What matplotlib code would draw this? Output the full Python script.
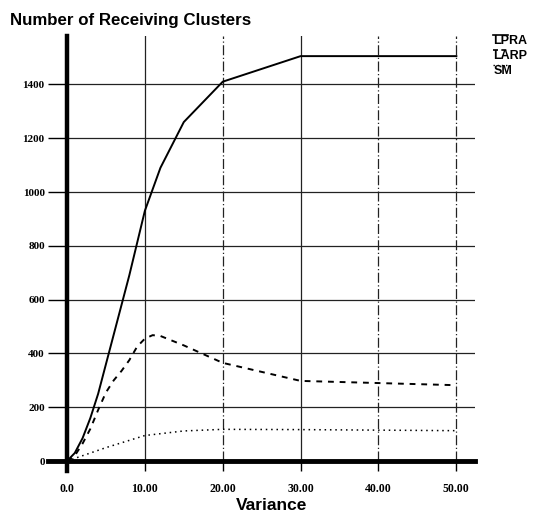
import matplotlib
matplotlib.use("Agg")
import matplotlib.pyplot as plt
from matplotlib.lines import Line2D

# LPRA (solid)
lpra_x = [0, 1, 2, 3, 4, 5, 6, 7, 8, 9, 10, 12, 15, 20, 30, 40, 50]
lpra_y = [0, 30, 85, 160, 250, 360, 470, 580, 690, 810, 930, 1090, 1260, 1410, 1505, 1505, 1505]
# LARP (dashed)
larp_x = [0, 1, 2, 3, 4, 5, 6, 7, 8, 9, 10, 11, 12, 15, 20, 30, 40, 50]
larp_y = [0, 20, 65, 120, 190, 255, 300, 335, 375, 425, 455, 468, 465, 430, 365, 298, 290, 282]
# SM (dotted)
sm_x = [0, 5, 10, 15, 20, 30, 40, 50]
sm_y = [0, 50, 95, 112, 118, 117, 115, 113]

x_ticks = [0, 10, 20, 30, 40, 50]
x_labels = ["0.0", "10.00", "20.00", "30.00", "40.00", "50.00"]
y_ticks = [0, 200, 400, 600, 800, 1000, 1200, 1400]
legend_labels = ["LPRA", "LARP", "SM"]

fig = plt.figure(figsize=(5.38, 5.21), dpi=100)
ax = fig.add_axes([0.1245, 0.115, 0.883 - 0.1245, 0.931 - 0.115])

ax.set_xlim(0, 52.4)
ax.set_ylim(0, 1580)

# сетка
for y in y_ticks[1:]:
    ax.axhline(y, color="#222222", lw=0.9, zorder=1)
for x in x_ticks[1:]:
    ls = "-" if x in (10, 30) else (0, (8, 2, 1, 2))
    ax.axvline(x, color="#222222", lw=0.9, ls=ls, zorder=1)

ax.plot(lpra_x, lpra_y, color="black", lw=1.4, zorder=3)
ax.plot(larp_x, larp_y, color="black", lw=1.4, ls=(0, (3, 3)), zorder=3)
ax.plot(sm_x, sm_y, color="black", lw=1.1, ls=(0, (1, 2.5)), zorder=3)

for side in ("top", "right"):
    ax.spines[side].set_visible(False)
ax.spines["left"].set_linewidth(3.2)
ax.spines["bottom"].set_linewidth(3.5)
ax.spines["left"].set_bounds(-35, 1580)
ax.spines["bottom"].set_bounds(-2.4, 52.4)
ax.spines["left"].set_zorder(4)
ax.spines["bottom"].set_zorder(4)

ax.set_yticks(y_ticks)
ax.set_yticklabels([str(v) for v in y_ticks])
ax.set_xticks(x_ticks)
ax.set_xticklabels(x_labels)
ax.tick_params(axis="y", direction="out", length=14, width=1.0, pad=2)
ax.tick_params(axis="x", direction="out", length=7, width=1.0, pad=9)
for lab in ax.get_yticklabels():
    lab.set_fontfamily("Liberation Serif")
    lab.set_fontweight("bold")
    lab.set_fontsize(8)
for lab in ax.get_xticklabels():
    lab.set_fontfamily("Liberation Serif")
    lab.set_fontweight("bold")
    lab.set_fontsize(8.5)

fig.text(0.019, 0.975, "Number of Receiving Clusters", fontsize=12.2,
         fontweight="bold", family="Liberation Sans", ha="left", va="top")
fig.text(0.505, 0.015, "Variance", fontsize=12.5, fontweight="bold",
         family="Liberation Sans", ha="center", va="bottom")

# легенда: подписи с короткой линией поверх
styles = [("-", 1.2), ((0, (3, 2)), 1.2), ((0, (1, 2)), 1.0)]
for i, (label, (ls, lw)) in enumerate(zip(legend_labels, styles)):
    ty = 0.922 - i * 0.029
    fig.text(0.917, ty, label, fontsize=9, fontweight="bold",
             family="Liberation Sans", ha="left", va="center")
    fig.add_artist(Line2D([0.917, 0.945], [ty + 0.011, ty + 0.011], color="black",
                          lw=lw, ls=ls, transform=fig.transFigure))

fig.savefig("out.png", dpi=100)
